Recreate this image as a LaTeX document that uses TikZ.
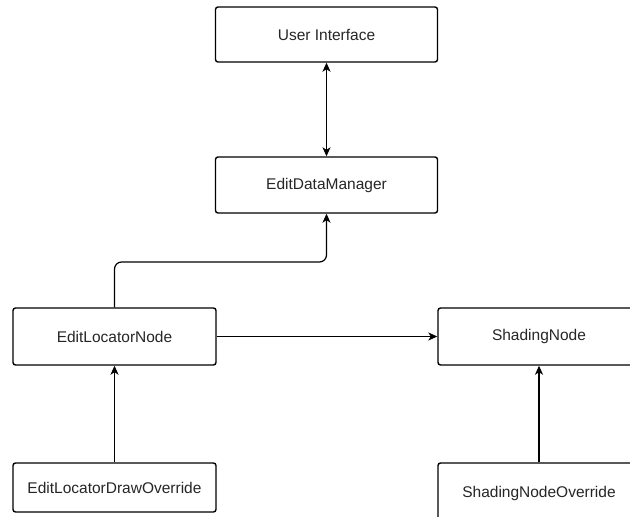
\documentclass[tikz,border=0pt]{standalone}
\usepackage{fontspec}
\setmainfont{Liberation Sans}
\usetikzlibrary{arrows.meta}
\begin{document}
\begin{tikzpicture}[x=1pt,y=-1pt,
  box/.style={draw=black,line width=1.4pt,rounded corners=2.5pt,fill=white,
    inner sep=0pt,font=\fontsize{15.5}{18}\selectfont,text=black!85},
  conn/.style={draw=black,line width=1.2pt,-{Stealth[length=9pt,width=8pt,inset=2.5pt]}},
  both/.style={draw=black,line width=1.2pt,{Stealth[length=9pt,width=8pt,inset=2.5pt]}-{Stealth[length=9pt,width=8pt,inset=2.5pt]}}]
\useasboundingbox (0,0) rectangle (630,517);
\node[box,minimum width=222pt,minimum height=55pt] (ui) at (326.5,34.5) {User Interface};
\node[box,minimum width=222pt,minimum height=56pt] (edm) at (326.5,185) {EditDataManager};
\node[box,minimum width=203pt,minimum height=57pt] (eln) at (114.5,336.5) {EditLocatorNode};
\node[box,minimum width=202pt,minimum height=57pt] (sn) at (539,336.5) {ShadingNode};
\node[box,minimum width=203pt,minimum height=49pt] (eldo) at (114.5,487.5) {EditLocatorDrawOverride};
\node[box,minimum width=202pt,minimum height=60pt] (sno) at (539,493) {ShadingNodeOverride};
\coordinate (bend) at (326.5,262);
\draw[both] (ui.south) -- (edm.north);
\draw[conn,rounded corners=7pt] (eln.north) |- (bend) -- (edm.south);
\draw[conn] (eln.east) -- (sn.west);
\draw[conn] (eldo.north) -- (eln.south);
\draw[conn] (sno.north) -- (sn.south);
\end{tikzpicture}
\end{document}
